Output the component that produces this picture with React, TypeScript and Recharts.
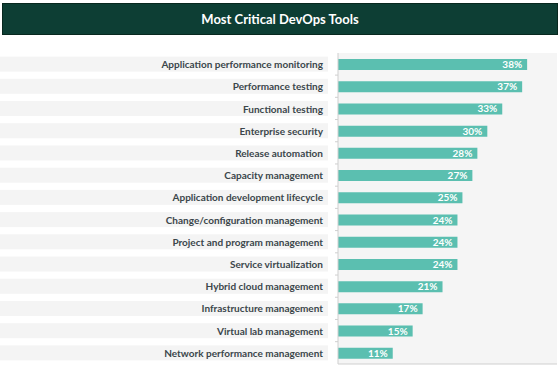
import { BarChart, Bar, XAxis, YAxis, CartesianGrid, LabelList } from "recharts";

const tools = [
  "Application performance monitoring",
  "Performance testing",
  "Functional testing",
  "Enterprise security",
  "Release automation",
  "Capacity management",
  "Application development lifecycle",
  "Change/configuration management",
  "Project and program management",
  "Service virtualization",
  "Hybrid cloud management",
  "Infrastructure management",
  "Virtual lab management",
  "Network performance management",
];

const shares = [38, 37, 33, 30, 28, 27, 25, 24, 24, 24, 21, 17, 15, 11];

const data = tools.map((name, i) => ({ name, value: shares[i] }));

const FONT = "Lato, 'Noto Sans', sans-serif";

const ToolTick = (props: any) => {
  const { y, payload, index } = props;
  return (
    <g>
      <rect x={0} y={y - 7.5} width={328} height={15} fill="#f4f4f4" />
      {index < tools.length - 1 && (
        <line x1={335} x2={338} y1={y + 11} y2={y + 11} stroke="#cfcfcf" />
      )}
      <text
        x={323}
        y={y}
        textAnchor="end"
        dominantBaseline="central"
        fontSize={10}
        fontWeight={700}
        fill="#3b464b"
        fontFamily={FONT}
      >
        {payload.value}
      </text>
    </g>
  );
};

export default function App() {
  return (
    <div
      style={{
        position: "absolute",
        left: 0,
        top: 0,
        width: 560,
        height: 368,
        background: "#fff",
        fontFamily: FONT,
      }}
    >
      <div
        style={{
          position: "absolute",
          left: 2,
          top: 3,
          width: 554,
          height: 30,
          background: "#0d3e34",
          border: "1px solid #08281f",
          color: "#fff",
          fontWeight: 700,
          fontSize: 13,
          lineHeight: "30px",
          textAlign: "center",
        }}
      >
        Most Critical DevOps Tools
      </div>
      <div style={{ position: "absolute", left: 0, top: 0 }}>
        <BarChart
          width={560}
          height={368}
          data={data}
          layout="vertical"
          barCategoryGap={0}
          margin={{ top: 53, right: 3, left: 0, bottom: 3 }}
        >
          <CartesianGrid fill="#f5f5f5" horizontal={false} vertical={false} />
          <XAxis
            type="number"
            domain={[0, 44]}
            height={1}
            tick={false}
            tickLine={false}
            axisLine={{ stroke: "#cfcfcf" }}
          />
          <YAxis
            type="category"
            dataKey="name"
            width={338}
            tick={<ToolTick />}
            tickLine={false}
            axisLine={{ stroke: "#cfcfcf" }}
            interval={0}
          />
          <Bar dataKey="value" fill="#5bbfb0" barSize={11} isAnimationActive={false}>
            <LabelList
              dataKey="value"
              position="insideRight"
              offset={5}
              fill="#fff"
              fontSize={10}
              fontWeight={700}
              fontFamily={FONT}
              formatter={(v: any) => `${v}%`}
            />
          </Bar>
        </BarChart>
      </div>
    </div>
  );
}
